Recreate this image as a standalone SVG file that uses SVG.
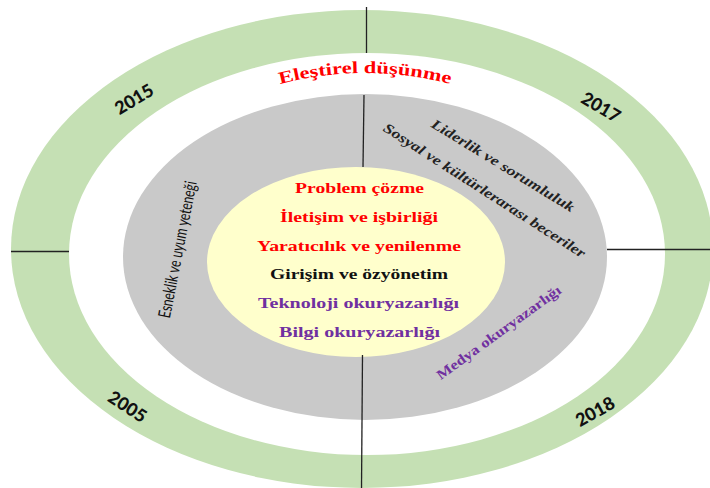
<svg xmlns="http://www.w3.org/2000/svg" width="710" height="488" viewBox="0 0 710 488">
<defs>
<style>
.yr{font-family:Lato,"Liberation Sans",sans-serif;font-weight:900;font-size:18px;fill:#111;text-anchor:middle}
.c{font-family:"Liberation Serif","Times New Roman",serif;font-weight:bold;font-size:15px;text-anchor:middle}
.it{font-family:"Liberation Serif","Times New Roman",serif;font-weight:bold;font-style:italic;font-size:14px;fill:#222;text-anchor:middle}
.red{fill:#FF0000}
.blk{fill:#111}
.pur{fill:#7030A0}
.ln{stroke:#222;stroke-width:1.3;fill:none}
</style>
<path id="arcTop" d="M 270 86.8 A 334 334 0 0 1 460 86.8"/>
</defs>
<rect width="710" height="488" fill="#FFFFFF"/>
<g id="ring-outer">
<ellipse cx="362" cy="249" rx="351" ry="239" fill="#C5E0B4"/>
<ellipse cx="367" cy="254" rx="298" ry="201" fill="#FFFFFF"/>
</g>
<g id="ring-gray">
<ellipse cx="365" cy="257" rx="242" ry="163" fill="#C9C9C9"/>
</g>
<g id="core">
<ellipse cx="356" cy="262" rx="149" ry="95" fill="#FFFFCC"/>
</g>
<g id="connectors">
<line class="ln" x1="366.5" y1="7" x2="366.5" y2="53"/>
<line class="ln" x1="364" y1="95" x2="363" y2="167"/>
<line class="ln" x1="607" y1="249.5" x2="710" y2="249.5"/>
<line class="ln" x1="11" y1="251.5" x2="69" y2="251.5"/>
<line class="ln" x1="362.5" y1="355" x2="361.5" y2="488"/>
</g>
<g id="year-2015"><text class="yr" transform="translate(134,99) rotate(-31)" dy="0.36em">2015</text></g>
<g id="year-2017"><text class="yr" transform="translate(601,107) rotate(30.5)" dy="0.36em">2017</text></g>
<g id="year-2005"><text class="yr" transform="translate(127.5,406.5) rotate(33)" dy="0.36em">2005</text></g>
<g id="year-2018"><text class="yr" transform="translate(595,411.5) rotate(-29)" dy="0.36em">2018</text></g>
<g id="elestirel">
<text class="c red" style="font-size:17px" text-anchor="middle"><textPath href="#arcTop" startOffset="50%" textLength="172" lengthAdjust="spacingAndGlyphs">Eleştirel düşünme</textPath></text>
</g>
<g id="liderlik"><text class="it" transform="translate(503,165.5) rotate(31.4)" dy="0.33em" textLength="165" lengthAdjust="spacingAndGlyphs">Liderlik ve sorumluluk</text></g>
<g id="sosyal"><text class="it" transform="translate(484.5,190.5) rotate(32.7)" dy="0.33em" textLength="237" lengthAdjust="spacingAndGlyphs">Sosyal ve kültürlerarası beceriler</text></g>
<g id="esneklik"><text transform="translate(177.5,249.5) rotate(-78.8)" dy="0.35em" font-family="Lato,'Liberation Sans',sans-serif" font-size="17" fill="#111" text-anchor="middle" textLength="139" lengthAdjust="spacingAndGlyphs">Esneklik ve uyum yeteneği</text></g>
<g id="medya"><text class="it pur" style="font-style:normal;font-size:14px" transform="translate(498.7,332.5) rotate(-35.9)" dy="0.33em" textLength="150" lengthAdjust="spacingAndGlyphs">Medya okuryazarlığı</text></g>
<g id="core-items">
<text class="c red" x="359.5" y="193" textLength="129" lengthAdjust="spacingAndGlyphs">Problem çözme</text>
<text class="c red" x="359" y="222" textLength="158" lengthAdjust="spacingAndGlyphs">İletişim ve işbirliği</text>
<text class="c red" x="359" y="251" textLength="204" lengthAdjust="spacingAndGlyphs">Yaratıcılık ve yenilenme</text>
<text class="c blk" x="359" y="279" textLength="178" lengthAdjust="spacingAndGlyphs">Girişim ve özyönetim</text>
<text class="c pur" x="358.5" y="308" textLength="201" lengthAdjust="spacingAndGlyphs">Teknoloji okuryazarlığı</text>
<text class="c pur" x="359.5" y="337" textLength="161" lengthAdjust="spacingAndGlyphs">Bilgi okuryazarlığı</text>
</g>
</svg>
